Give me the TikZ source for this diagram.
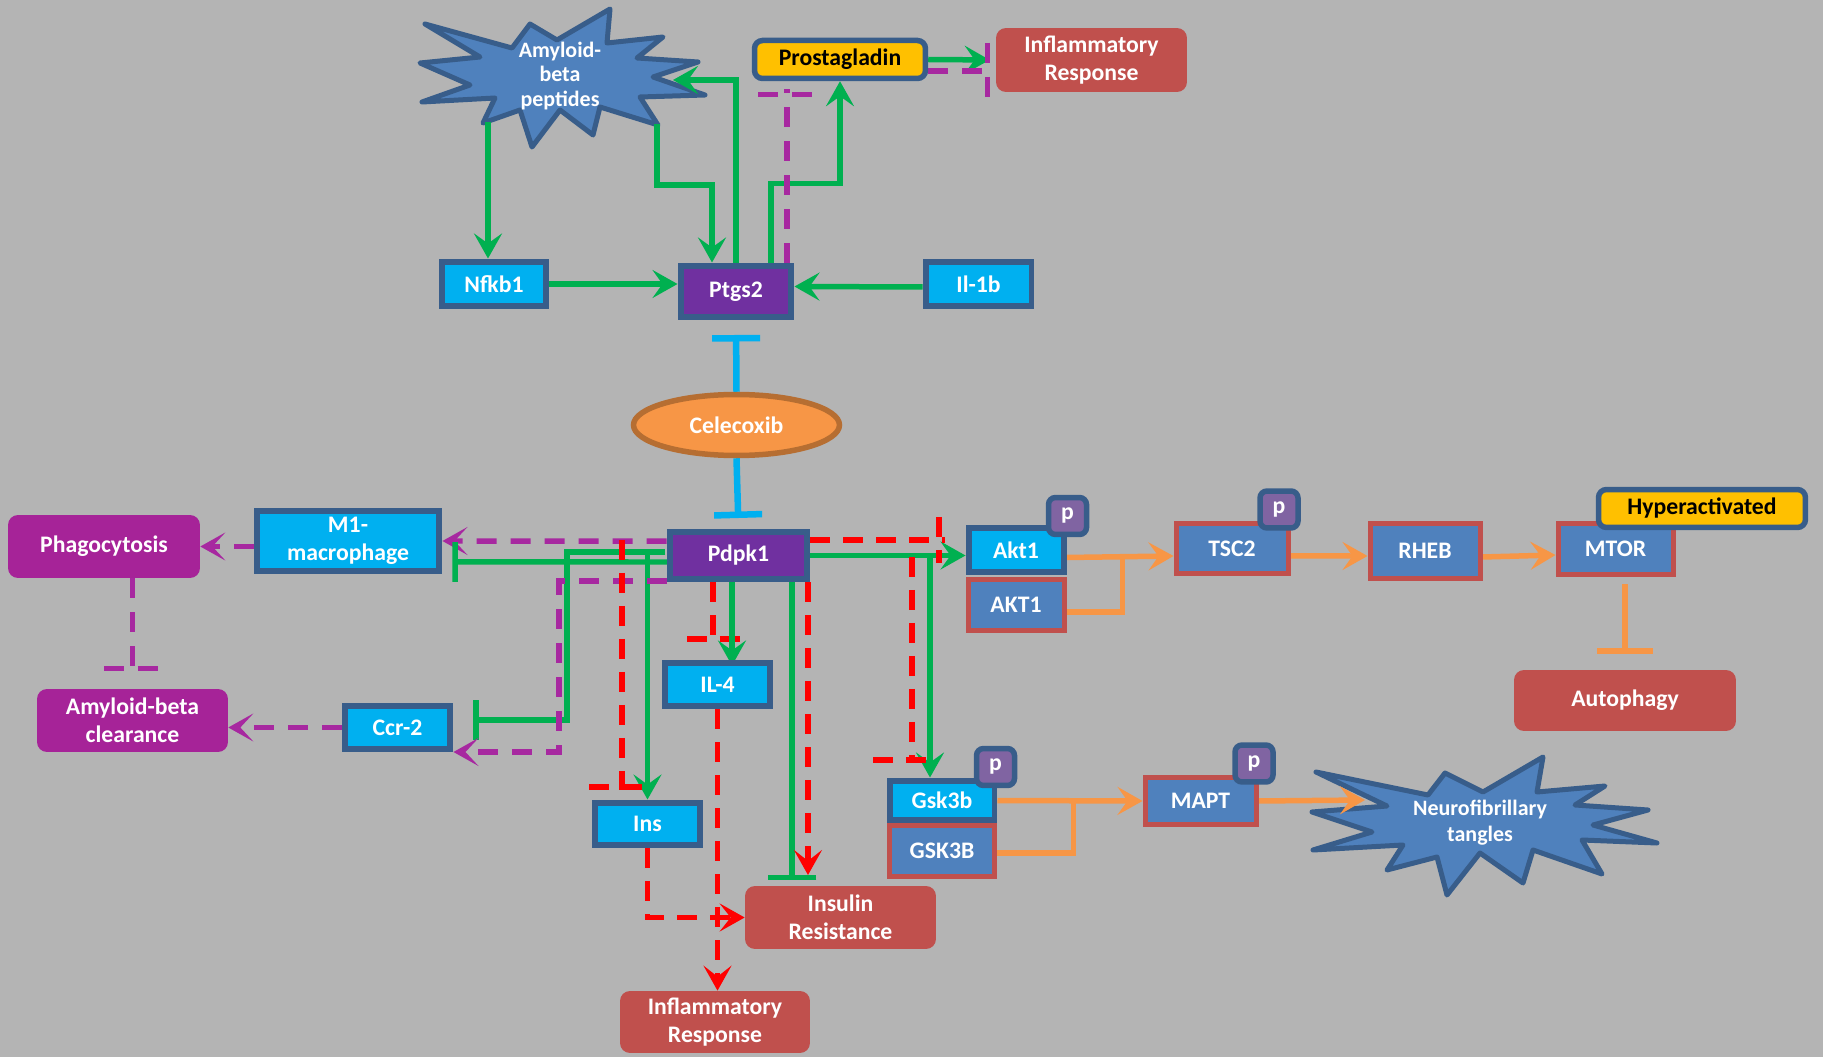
\documentclass[tikz,border=0pt]{standalone}
\usepackage{fontspec}
\setmainfont{Carlito}
\usetikzlibrary{arrows.meta,shapes.geometric,calc}

\definecolor{bgGray}{RGB}{180,180,180}
\definecolor{edgeBlue}{RGB}{56,93,138}
\definecolor{geneCyan}{RGB}{0,176,240}
\definecolor{enzPurple}{RGB}{112,48,160}
\definecolor{steel}{RGB}{79,129,189}
\definecolor{brick}{RGB}{192,80,77}
\definecolor{micGlia}{RGB}{166,35,152}
\definecolor{phosPurple}{RGB}{128,100,162}
\definecolor{gold}{RGB}{255,192,0}
\definecolor{celeOrange}{RGB}{247,150,70}
\definecolor{celeEdge}{RGB}{182,110,50}
\definecolor{lineGreen}{RGB}{0,176,80}
\definecolor{lineOrange}{RGB}{247,150,70}
\definecolor{dashPurple}{RGB}{167,40,160}
\definecolor{dashRed}{RGB}{255,0,0}

\pgfdeclarelayer{bg}
\pgfdeclarelayer{wires}
\pgfsetlayers{bg,wires,main}

\tikzset{
  every node/.style={
    font=\bfseries\fontsize{13.5}{16}\selectfont,
    text=white,
    align=center,
    inner sep=0pt
  },
  gene/.style={
    draw=edgeBlue,
    line width=0.12cm,
    fill=geneCyan,
    minimum width=2.12cm,
    minimum height=0.88cm
  },
  enzyme/.style={gene, fill=enzPurple},
  protein/.style={
    draw=brick,
    line width=0.1cm,
    fill=steel,
    minimum width=2.2cm,
    minimum height=1.02cm
  },
  outcome/.style={
    fill=brick,
    rounded corners=0.2cm,
    minimum width=3.82cm,
    minimum height=1.26cm
  },
  micro/.style={outcome, fill=micGlia},
  tag/.style={
    draw=edgeBlue,
    line width=0.11cm,
    fill=gold,
    rounded corners=0.16cm,
    text=black,
    minimum height=0.76cm
  },
  phos/.style={
    draw=edgeBlue,
    line width=0.11cm,
    fill=phosPurple,
    rounded corners=0.14cm,
    minimum width=0.76cm,
    minimum height=0.74cm
  },
  burst/.style={draw=edgeBlue, line width=0.1cm, fill=steel, line join=round},
  %% solid green links
  act/.style={draw=lineGreen, line width=0.11cm,
    -{Stealth[length=0.5cm,width=0.56cm,inset=0.2cm]}},
  inh/.style={draw=lineGreen, line width=0.11cm, -{Bar[width=0.8cm]}},
  %% dashed links
  pdash/.style={draw=dashPurple, line width=0.11cm, dash pattern=on 0.4cm off 0.28cm},
  pact/.style={pdash, -{Stealth[length=0.5cm,width=0.56cm,inset=0.26cm]}},
  rdash/.style={draw=dashRed, line width=0.11cm, dash pattern=on 0.4cm off 0.26cm},
  ract/.style={rdash, -{Stealth[length=0.5cm,width=0.56cm,inset=0.22cm]}},
  %% orange links
  oline/.style={draw=lineOrange, line width=0.11cm},
  oact/.style={oline, -{Stealth[length=0.5cm,width=0.56cm,inset=0.2cm]}},
  oinh/.style={oline, -{Bar[width=1.12cm]}},
  cinh/.style={draw=geneCyan, line width=0.13cm, -{Bar[width=0.96cm]}}
}

\begin{document}
\begin{tikzpicture}[x=0.02cm, y=-0.02cm]
  \useasboundingbox (0,0) rectangle (1823,1057);
  %
  % Ptgs2 module
  \node[enzyme, minimum width=2.22cm, minimum height=1.04cm] (ptgs2) at (736,291.5) {Ptgs2};
  \node[gene, minimum width=2.1cm, minimum height=0.9cm] (nfkb) at (494,284) {Nfkb1};
  \node[gene, minimum height=0.9cm] (il1b) at (978.5,284) {Il-1b};
  \node[tag, minimum width=3.42cm] (prosta) at (840,59.5) {Prostagladin};
  \node[outcome, minimum height=1.28cm] (inflTop) at (1091.5,60) {Inflammatory\\Response};
  \node[font=\bfseries\fontsize{12.5}{14.2}\selectfont] (amyloid) at (560,76) {Amyloid-\\beta\\peptides};
  %
  % drug
  \node[ellipse, draw=celeEdge, fill=celeOrange, line width=0.11cm,
        minimum width=4.12cm, minimum height=1.22cm] (cele) at (736.5,425) {Celecoxib};
  %
  % Pdpk1 module
  \node[enzyme, minimum width=2.76cm, minimum height=0.96cm] (pdpk) at (738.5,555.5) {Pdpk1};
  \node[gene, minimum width=3.66cm, minimum height=1.22cm] (m1) at (348,541) {M1-\\macrophage};
  \node[micro, minimum width=3.84cm] (phago) at (104,546.5) {Phagocytosis};
  \node[micro] (abclear) at (132.5,720.5) {Amyloid-beta\\clearance};
  \node[gene] (ccr2) at (397.5,727.5) {Ccr-2};
  \node[gene] (il4) at (717.5,684.5) {IL-4};
  \node[gene, minimum height=0.86cm] (ins) at (647.5,824) {Ins};
  \node[outcome] (insres) at (840.5,917.5) {Insulin\\Resistance};
  \node[outcome, minimum width=3.8cm, minimum height=1.24cm] (inflBot) at (715,1022) {Inflammatory\\Response};
  %
  % mTOR and tau branches
  \node[gene, minimum width=1.9cm, minimum height=0.9cm] (akt1) at (1016,550) {Akt1};
  \node[protein, minimum width=1.92cm, minimum height=1.04cm] (akt1b) at (1016,605) {AKT1};
  \node[protein, minimum width=2.24cm] (tsc2) at (1232,548.5) {TSC2};
  \node[protein, minimum height=1.12cm] (rheb) at (1425,551) {RHEB};
  \node[protein, minimum width=2.3cm, minimum height=1.04cm] (mtor) at (1615.5,549) {MTOR};
  \node[tag, minimum width=4.14cm] (hyper) at (1702,508.5) {Hyperactivated};
  \node[outcome, minimum width=4.44cm, minimum height=1.22cm] (autoph) at (1625,700.5) {Autophagy};
  \node[gene, minimum width=2.1cm, minimum height=0.8cm] (gsk3b) at (942,800.5) {Gsk3b};
  \node[protein, minimum width=2.12cm] (gsk3bB) at (942,851) {GSK3B};
  \node[protein, minimum width=2.22cm, minimum height=0.96cm] (mapt) at (1200.5,801) {MAPT};
  \node[font=\bfseries\fontsize{12.5}{14.8}\selectfont] (tangles) at (1480,823) {Neurofibrillary\\tangles};
  %
  % phosphorylation tags
  \node[phos] (pAkt) at (1067.5,516) {p};
  \node[phos] (pTsc) at (1279,509.5) {p};
  \node[phos] (pGsk) at (995.5,767) {p};
  \node[phos] (pMapt) at (1254,763.5) {p};
  %
  \coordinate (abNfkb) at (488,122);
  \coordinate (abPtgs) at (657,124);
  \coordinate (abIn) at (673,80);
  \coordinate (nftIn) at (1365,800);
  %
  \begin{pgfonlayer}{bg}
    \fill[bgGray] (0,0) rectangle (1823,1057);
    \draw[burst] (425,24) -- (512,48) -- (530,24) -- (557,40) -- (610,9) -- (607,43)
      -- (663,37) -- (637,58) -- (698,62) -- (653,77) -- (705,95) -- (640,97)
      -- (658,125) -- (600,107) -- (593,135) -- (560,110) -- (532,147) -- (520,110)
      -- (483,123) -- (495,98) -- (422,102) -- (470,85) -- (420,63) -- (480,57) -- cycle;
    \draw[burst] (1316,772) -- (1428,795) -- (1445,773) -- (1483,792) -- (1543,757)
      -- (1537,792) -- (1605,786) -- (1575,805) -- (1648,810) -- (1593,825)
      -- (1657,843) -- (1582,840) -- (1602,874) -- (1533,850) -- (1523,883)
      -- (1480,853) -- (1447,895) -- (1437,857) -- (1387,870) -- (1403,845)
      -- (1313,850) -- (1372,832) -- (1312,812) -- (1387,806) -- cycle;
  \end{pgfonlayer}
  %
  \begin{pgfonlayer}{wires}
    % around Ptgs2
    \draw[act] (abNfkb) -- (abNfkb |- nfkb.north);
    \draw[act] (nfkb.east) -- (nfkb.east -| ptgs2.west);
    \draw[act] ([yshift=-0.06cm]il1b.west) -- ([yshift=0.1cm]ptgs2.east);
    \draw[act] (abPtgs) -- ++(0,61) -| ([xshift=-0.48cm]ptgs2.north);
    \draw[act] (ptgs2.north) |- (abIn);
    \draw[act] ([xshift=0.7cm]ptgs2.north) -- ++(0,-79) -| (prosta.south);
    \draw[pdash] ([xshift=1.02cm]ptgs2.north) -- ++(0,-173.5);
    \draw[pdash] ([shift={(-82,13.5)}]prosta.south) -- ++(58,0);
    \draw[act, shorten >=0.12cm] (prosta.east) -- (inflTop.west);
    \draw[pdash] ([yshift=-0.23cm]prosta.east) -- ++(62.5,0);
    \draw[pdash] ([shift={(-8,-17)}]inflTop.west) -- ++(0,57);
    %
    % Celecoxib
    \draw[cinh, shorten >=0.29cm] (cele.north) -- (ptgs2.south);
    \draw[cinh, shorten >=0.21cm] (cele.south) -- (pdpk.north);
    %
    % Pdpk1, left side
    \draw[pact] ([yshift=0.29cm]pdpk.west) -- (m1.east);
    \draw[inh, shorten >=0.2cm] ([shift={(5,6.5)}]pdpk.west) -- ([yshift=-0.42cm]m1.east);
    \draw[inh, shorten >=0.4cm] ([shift={(-1.5,-3.5)}]pdpk.west) -- ++(-98,0) |- ([yshift=0.15cm]ccr2.east);
    \draw[act] ([shift={(-1.5,-3.5)}]pdpk.west) -| (ins.north);
    \draw[pact] ([yshift=-0.51cm]pdpk.west) -- ++(-107.5,0) |- ([yshift=-0.49cm]ccr2.east);
    \draw[pact] (m1.west |- phago.east) -- (phago.east);
    \draw[pdash] (phago.south -| abclear.north) -- ++(0,92.5);
    \draw[pdash] ([shift={(-28.5,-20)}]abclear.north) -- ++(56,0);
    \draw[pact] (ccr2.west) -- (ccr2.west -| abclear.east);
    %
    % Pdpk1, downwards
    \draw[rdash] ([shift={(-44.5,-15.5)}]pdpk.west) -- ++(0,250);
    \draw[rdash] ([shift={(-58.5,-12.5)}]ins.north) -- ++(58,0);
    \draw[rdash] ([xshift=-0.51cm]pdpk.south) -- ++(0,62.5);
    \draw[rdash] ([shift={(-30.5,-20.5)}]il4.north) -- ++(56,0);
    \draw[act] ([xshift=-0.13cm]pdpk.south) -- ++(0,83);
    \draw[inh, -{Bar[width=0.98cm]}, shorten >=0.18cm] ([xshift=1.07cm]pdpk.south) -- ++(0,306.5);
    \draw[ract, shorten >=0.28cm] ([xshift=1.39cm]pdpk.south) -- ++(0,306.5);
    \draw[ract] (ins.south) |- (insres.west);
    \draw[ract] (il4.south) -- (il4.south |- inflBot.north);
    %
    % Pdpk1, right side
    \draw[act] (pdpk.east) -- (pdpk.east -| akt1.west);
    \draw[act] (pdpk.east) -| ([xshift=-0.24cm]gsk3b.north);
    \draw[rdash] ([yshift=0.31cm]pdpk.east) -- ++(134.5,0);
    \draw[rdash] ([shift={(-26.5,-33)}]akt1.west) -- ++(0,46);
    \draw[rdash] ([shift={(101.5,1.5)}]pdpk.east) -- ++(0,206);
    \draw[rdash] ([shift={(-69,-17.5)}]gsk3b.north) -- ++(57,0);
    %
    % mTOR cascade
    \draw[oact] ([yshift=-0.15cm]akt1.east) -- ([yshift=-0.15cm]tsc2.west);
    \draw[oline] ([yshift=-0.14cm]akt1b.east) -- ++(56,0) -- ++(0,-56);
    \draw[oact] ([yshift=-0.15cm]tsc2.east) -- ([yshift=-0.1cm]rheb.west);
    \draw[oact] ([yshift=-0.12cm]rheb.east) -- ([yshift=-0.12cm]mtor.west);
    \draw[oinh, shorten <=0.14cm, shorten >=0.32cm] (mtor.south -| autoph.north) -- (autoph.north);
    %
    % tau cascade
    \draw[oact] (gsk3b.east) -- (mapt.west);
    \draw[oline] ([yshift=-0.04cm]gsk3bB.east) -- ++(76,0) -- ++(0,-52);
    \draw[oact] (mapt.east) -- (nftIn);
  \end{pgfonlayer}
\end{tikzpicture}
\end{document}
